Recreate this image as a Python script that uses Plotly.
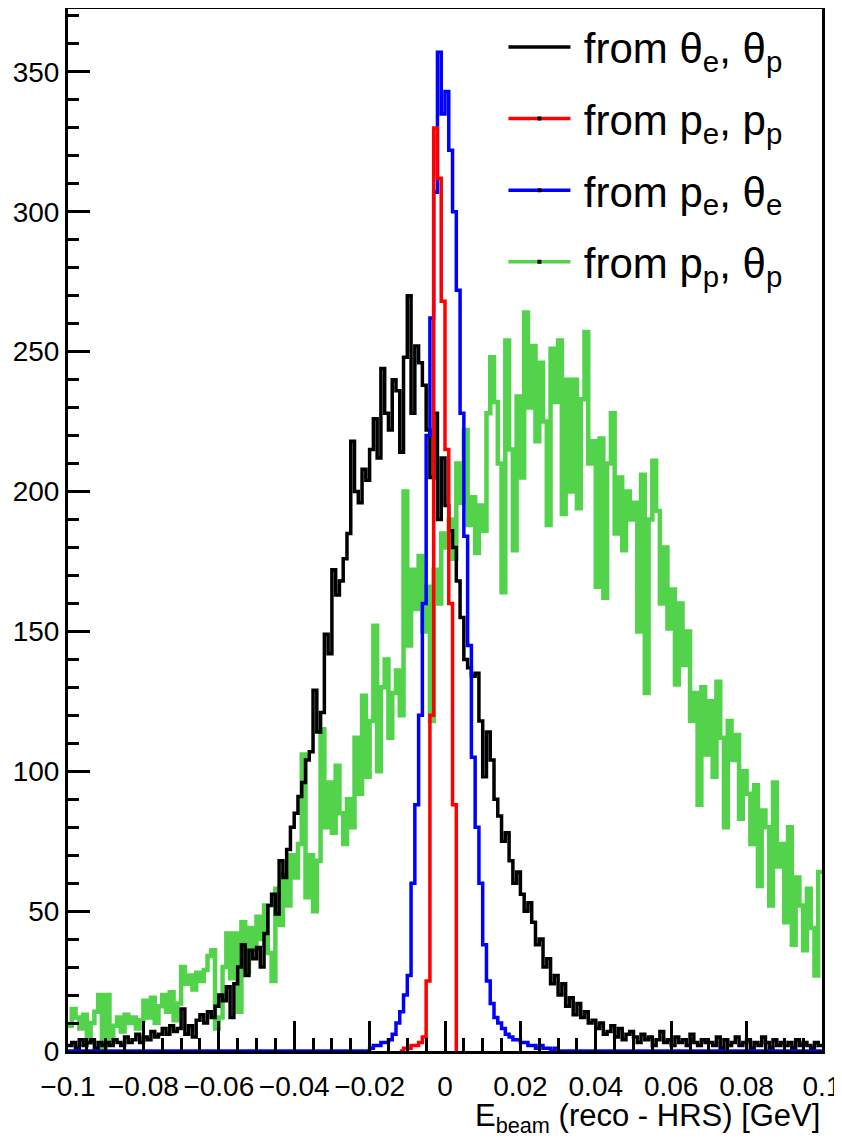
import numpy as np
import plotly.graph_objects as go

# ---- binning: 200 bins over [-0.1, 0.1] (GeV)
x_min, x_max, n_bins = -0.1, 0.1, 200
edges = np.round(np.linspace(x_min, x_max, n_bins + 1), 4)

# ---- from theta_e, theta_p (black)
black_counts = [
    2, 3, 1, 4, 2, 3, 4, 1, 3, 2,
    3, 2, 4, 3, 2, 5, 3, 4, 6, 3,
    5, 4, 7, 5, 6, 8, 6, 9, 7, 8,
    15, 6, 9, 5, 11, 13, 10, 14, 12, 16,
    20, 18, 23, 12, 24, 30, 38, 27, 36, 33,
    37, 30, 42, 52, 56, 49, 68, 62, 72, 80,
    85, 91, 96, 104, 107, 129, 114, 121, 149, 142,
    172, 163, 168, 176, 185, 218, 200, 196, 208, 204,
    215, 226, 212, 244, 228, 222, 240, 236, 214, 248,
    270, 228, 252, 246, 238, 222, 205, 228, 190, 212,
    195, 186, 180, 168, 155, 140, 137, 134, 135, 118,
    98, 114, 104, 90, 84, 75, 78, 68, 60, 64,
    56, 50, 53, 46, 38, 40, 30, 33, 24, 27,
    20, 24, 16, 19, 13, 17, 12, 14, 10, 11,
    8, 10, 6, 7, 9, 5, 8, 4, 6, 7,
    5, 3, 6, 4, 5, 2, 4, 7, 3, 4,
    2, 5, 3, 4, 2, 6, 3, 2, 4, 3,
    3, 2, 5, 1, 4, 2, 3, 5, 2, 3,
    4, 1, 3, 2, 5, 3, 1, 4, 2, 3,
    2, 3, 1, 4, 2, 3, 2, 1, 3, 2,
]

# ---- from p_p, theta_p (green)
green_counts = [
    9, 15, 12, 8, 13, 3, 10, 14, 20, 0,
    20, 4, 9, 12, 7, 13, 10, 12, 8, 11,
    18, 12, 19, 10, 16, 20, 14, 21, 11, 17,
    30, 24, 27, 22, 28, 25, 29, 34, 36, 8,
    12, 30, 42, 26, 42, 14, 46, 28, 44, 36,
    48, 40, 52, 35, 25, 58, 45, 63, 52, 70,
    62, 74, 106, 55, 70, 50, 68, 115, 80, 96,
    78, 102, 85, 74, 90, 80, 112, 92, 127, 98,
    118, 152, 100, 130, 140, 112, 128, 136, 120, 200,
    145, 172, 158, 177, 150, 166, 118, 172, 160, 185,
    180, 190, 176, 210, 196, 222, 188, 198, 178, 195,
    186, 228, 248, 232, 210, 164, 254, 215, 179, 234,
    205, 264, 230, 252, 218, 246, 225, 188, 251, 232,
    254, 192, 240, 200, 240, 194, 233, 257, 210, 218,
    166, 219, 162, 210, 228, 185, 205, 179, 200, 190,
    196, 150, 206, 128, 190, 211, 193, 160, 180, 151,
    165, 131, 160, 138, 150, 118, 128, 88, 130, 106,
    125, 98, 132, 112, 80, 118, 104, 113, 83, 100,
    92, 74, 95, 59, 86, 80, 52, 96, 66, 74,
    46, 80, 38, 62, 52, 36, 58, 44, 27, 64,
]

# ---- from p_e, theta_e (blue)
blue_counts = [0] * 80 + [
    1, 2, 2, 3, 3, 4, 6, 10, 14, 20,
    27, 60, 88, 120, 160, 220, 262, 307, 357, 335,
    343, 322, 300, 272, 228, 184, 145, 105, 80, 60,
    38, 25, 17, 12, 10, 8, 6, 5, 4, 4,
    3, 3, 2, 2, 1, 2, 1, 1, 0, 1,
] + [0] * 70

# ---- from p_e, p_p (red), filled only near zero
red_edges = np.round(np.linspace(-0.012, 0.003, 16), 4)
red_counts = [0, 1, 1, 2, 2, 3, 5, 25, 120, 330, 312, 268, 215, 160, 88]

# legend labels
labels = {
    "k": "from θ<sub>e</sub>, θ<sub>p</sub>",
    "r": "from p<sub>e</sub>, p<sub>p</sub>",
    "b": "from p<sub>e</sub>, θ<sub>e</sub>",
    "g": "from p<sub>p</sub>, θ<sub>p</sub>",
}


def step_xy(bin_edges, counts, drop_end=False):
    xs = list(bin_edges)
    ys = list(counts) + [counts[-1]]
    if drop_end:
        xs.append(bin_edges[-1])
        ys.append(0)
    return xs, ys


fig = go.Figure()

gx, gy = step_xy(edges, green_counts)
bx, by = step_xy(edges, black_counts)
ux, uy = step_xy(edges, blue_counts)
rx, ry = step_xy(red_edges, red_counts, drop_end=True)

GREEN = "#53d34b"
SP = "\u2009"
styles = {"k": ("black", 3.5), "r": ("#ff0000", 3.5), "b": ("#0000ff", 3.5), "g": (GREEN, 4.5)}

# data traces (drawing order: green, black, blue, red)
for key, (xs, ys) in [("g", (gx, gy)), ("k", (bx, by)), ("b", (ux, uy)), ("r", (rx, ry))]:
    col, w = styles[key]
    fig.add_trace(go.Scatter(x=xs, y=ys, mode="lines", line=dict(color=col, width=w, shape="hv"),
                             showlegend=False, legendgroup=key, hoverinfo="skip"))

# legend entries (ROOT style: line with small black marker for the error-drawn histos)
for rank, key in enumerate(["k", "r", "b", "g"], start=1):
    col, w = styles[key]
    mode = "lines" if key == "k" else "lines+markers"
    fig.add_trace(go.Scatter(x=[None], y=[None], mode=mode,
                             line=dict(color=col, width=3.5),
                             marker=dict(symbol="square", size=4, color="black", line=dict(width=0)),
                             name=SP + labels[key], legendrank=rank, legendgroup=key))

FONT = "Liberation Sans, Arial, Helvetica, sans-serif"

fig.update_layout(
    width=834, height=1130,
    margin=dict(l=60, r=20, t=1, b=87, autoexpand=False),
    paper_bgcolor="white", plot_bgcolor="white",
    font=dict(family=FONT, size=28, color="black"),
    showlegend=True,
    legend=dict(x=0.5775, y=0.996, xanchor="left", yanchor="top",
                font=dict(size=42, family=FONT, color="black"),
                bgcolor="rgba(255,255,255,0)", borderwidth=0,
                tracegroupgap=14, itemwidth=62),
    xaxis=dict(range=[x_min, x_max], dtick=0.02, tick0=0, ticks="inside", ticklen=30,
               tickwidth=2.5, tickcolor="black", showgrid=False, zeroline=False,
               showline=True, linecolor="black", linewidth=3, mirror=True, automargin=False,
               ticklabelstandoff=8,
               tickfont=dict(size=28, family=FONT, color="black"),
               minor=dict(dtick=0.005, ticks="inside", ticklen=13, tickwidth=2.5,
                          tickcolor="black", showgrid=False)),
    yaxis=dict(range=[0, 372.5], dtick=50, tick0=0, ticks="inside", ticklen=22,
               tickwidth=2.5, tickcolor="black", showgrid=False, zeroline=False,
               showline=True, linecolor="black", linewidth=3, mirror=True, automargin=False,
               tickfont=dict(size=28, family=FONT, color="black"),
               minor=dict(dtick=10, ticks="inside", ticklen=11, tickwidth=2.5,
                          tickcolor="black", showgrid=False)),
    annotations=[dict(text="E<sub>beam</sub> (reco - HRS) [GeV]", xref="paper", yref="paper",
                      x=1.0, y=-0.064, xanchor="right", yanchor="middle", showarrow=False,
                      font=dict(size=31, family=FONT, color="black"))],
)

fig.write_html("out.html")
